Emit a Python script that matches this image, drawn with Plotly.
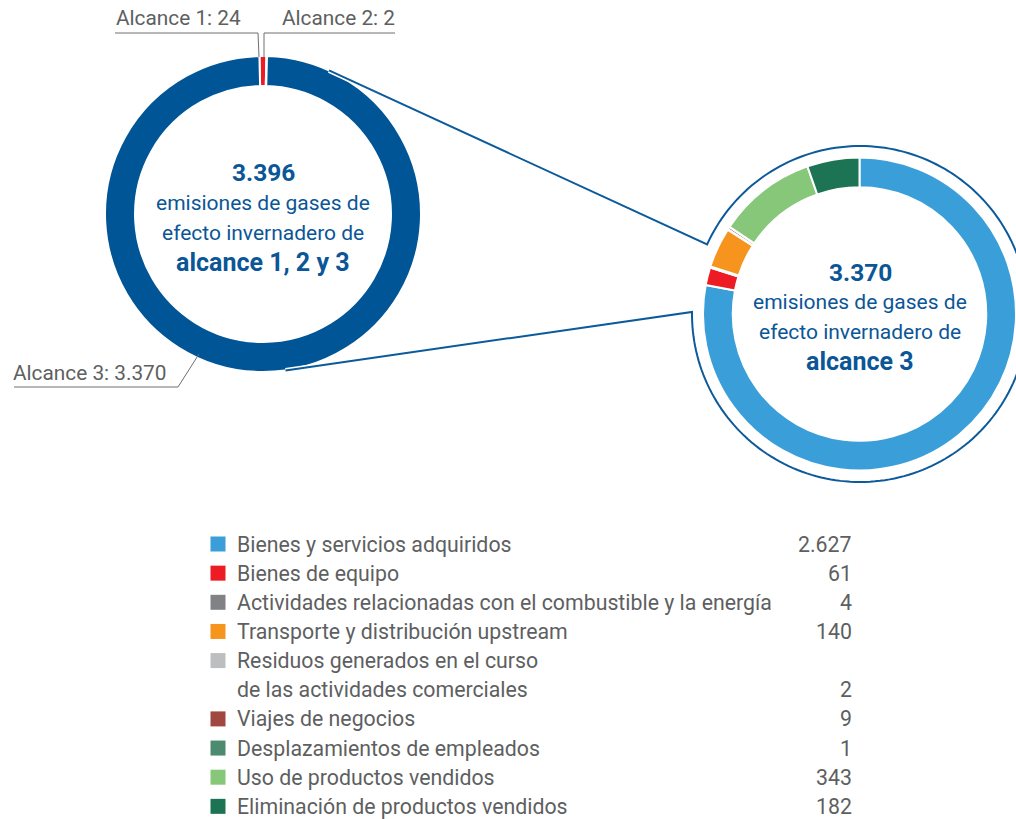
import math
import plotly.graph_objects as go

W, H = 1016, 819

# ---------------- data ----------------
scope_labels = ["Alcance 1", "Alcance 2", "Alcance 3"]
scope_values = [24, 2, 3370]
scope_colors = ["#ED1C24", "#A7A9AC", "#005596"]

cat_labels = [
    "Bienes y servicios adquiridos",
    "Bienes de equipo",
    "Actividades relacionadas con el combustible y la energía",
    "Transporte y distribución upstream",
    "Residuos generados en el curso<br>de las actividades comerciales",
    "Viajes de negocios",
    "Desplazamientos de empleados",
    "Uso de productos vendidos",
    "Eliminación de productos vendidos",
]
cat_values = [2627, 61, 4, 140, 2, 9, 1, 343, 182]
cat_colors = ["#3A9FD9", "#ED1C24", "#808285", "#F7941D", "#BCBEC0",
              "#A0473F", "#4C8B6F", "#86C77A", "#1C7454"]

center_left = ["emisiones de gases de", "efecto invernadero de", "alcance 1, 2 y 3"]
center_right = ["emisiones de gases de", "efecto invernadero de", "alcance 3"]

# ---------------- style ----------------
BLUE = "#0A5697"
LINE_BLUE = "#0B5A9B"
GREY_TXT = "#5E5F61"
GREY_LINE = "#6D6E71"
FONT_N = "Roboto, sans-serif"
FONT_B = "Roboto, sans-serif"


def fmt(v):
    return f"{v:,}".replace(",", ".")


# geometry (pixels)
LC = (263, 214); LR = 158
RC = (860, 314); RR = 157
OUT_R = 168


def dom(c, r):
    x0 = max(0, (c[0] - r) / W); x1 = min(1, (c[0] + r) / W)
    y0 = 1 - (c[1] + r) / H; y1 = 1 - (c[1] - r) / H
    return dict(x=[x0, x1], y=[y0, y1])


fig = go.Figure()

# legend squares
row_y0, row_h = 544, 29.15
rows = []
k = 0
for lab in cat_labels:
    n = len(lab.split("<br>"))
    rows.append((k, n))
    k += n

fig.add_trace(go.Scatter(
    x=[218] * len(cat_labels),
    y=[row_y0 + r[0] * row_h for r in rows],
    mode="markers",
    marker=dict(symbol="square", size=15, color=cat_colors, line=dict(width=0)),
    hoverinfo="skip", showlegend=False,
))

fig.add_trace(go.Pie(
    values=scope_values, labels=scope_labels, sort=False, direction="clockwise",
    rotation=-1.3, hole=0.81, textinfo="none", hoverinfo="skip",
    marker=dict(colors=scope_colors, line=dict(color="white", width=2)),
    domain=dom(LC, LR), showlegend=False,
))
fig.add_trace(go.Pie(
    values=cat_values, labels=cat_labels, sort=False, direction="clockwise",
    rotation=0, hole=0.81, textinfo="none", hoverinfo="skip",
    marker=dict(colors=cat_colors, line=dict(color="white", width=2)),
    domain=dom(RC, RR), showlegend=False,
))

# connector path: tangent lines from the left ring to an arc around the right ring
def tangent(P, C, r, side):
    dx, dy = P[0] - C[0], P[1] - C[1]
    d = math.hypot(dx, dy)
    th = math.atan2(dy, dx)
    a = math.acos(r / d)
    ang = th - a if side == "top" else th + a
    return (C[0] + r * math.cos(ang), C[1] + r * math.sin(ang))

a_lo = math.radians(180.7)
a_up = math.radians(-155.5)
p_lo = (RC[0] + OUT_R * math.cos(a_lo), RC[1] + OUT_R * math.sin(a_lo))
p_up = (RC[0] + OUT_R * math.cos(a_up), RC[1] + OUT_R * math.sin(a_up))
t_lo = tangent(p_lo, LC, LR, "bottom")
t_up = tangent(p_up, LC, LR, "top")

pts = [t_lo, p_lo]
N = 200
for i in range(1, N):
    a = a_lo + (a_up - a_lo) * i / N
    pts.append((RC[0] + OUT_R * math.cos(a), RC[1] + OUT_R * math.sin(a)))
pts += [p_up, t_up]
path = "M " + " L ".join(f"{x:.2f},{y:.2f}" for x, y in pts)

shapes = [
    dict(type="path", path=path, xref="x", yref="y", layer="above",
         line=dict(color="white", width=5)),
    dict(type="path", path=path, xref="x", yref="y", layer="above",
         line=dict(color=LINE_BLUE, width=2)),
]
# label leader lines
for p in [
    "M 115,33 L 258,33 L 259,57",
    "M 395,33 L 264,33 L 264,57",
    "M 14,387 L 178,387 L 199,354",
]:
    shapes.append(dict(type="path", path=p, xref="x", yref="y", layer="above",
                       line=dict(color=GREY_LINE, width=1)))

ann = []
# scope labels
scope_pos = [(178, 18), (338, 18), (90, 373)]
for lab, v, (x, y) in zip(scope_labels, scope_values, scope_pos):
    ann.append(dict(x=x, y=y, text=f"{lab}: {fmt(v)}", showarrow=False,
                    xanchor="center", yanchor="middle",
                    font=dict(family=FONT_N, size=20.8, color=GREY_TXT)))

# centre texts
def centre(c, total, lines, ys):
    out = [dict(x=c[0], y=ys[0], text=f"<b>{fmt(total)}</b>", showarrow=False,
                xanchor="center", yanchor="middle",
                font=dict(family=FONT_B, size=24.5, color=BLUE))]
    for i, t in enumerate(lines):
        bold = i == len(lines) - 1
        out.append(dict(x=c[0], y=ys[i + 1], text=(f"<b>{t}</b>" if bold else t),
                        showarrow=False, xanchor="center", yanchor="middle",
                        font=dict(family=FONT_B, size=25 if bold else 21, color=BLUE)))
    return out

ann += centre(LC, sum(scope_values), center_left, [172, 203, 233, 262])
ann += centre(RC, scope_values[2], center_right, [272, 302, 332, 361])

# legend texts
for lab, v, (k0, n) in zip(cat_labels, cat_values, rows):
    parts = lab.split("<br>")
    for j, part in enumerate(parts):
        ann.append(dict(x=235, y=row_y0 + (k0 + j) * row_h, text=part, showarrow=False,
                        xanchor="left", yanchor="middle",
                        font=dict(family=FONT_N, size=21.3, color=GREY_TXT)))
    ann.append(dict(x=854, y=row_y0 + (k0 + n - 1) * row_h, text=fmt(v), showarrow=False,
                    xanchor="right", yanchor="middle",
                    font=dict(family=FONT_N, size=21.3, color=GREY_TXT)))

fig.update_layout(
    width=W, height=H, margin=dict(l=0, r=0, t=0, b=0),
    paper_bgcolor="white", plot_bgcolor="white",
    xaxis=dict(range=[0, W], visible=False, fixedrange=True),
    yaxis=dict(range=[H, 0], visible=False, fixedrange=True),
    shapes=shapes, annotations=ann, showlegend=False,
)

fig.write_html("out.html", config={"displayModeBar": False},
               post_script="document.body.style.margin='0';document.body.style.overflow='hidden';")
